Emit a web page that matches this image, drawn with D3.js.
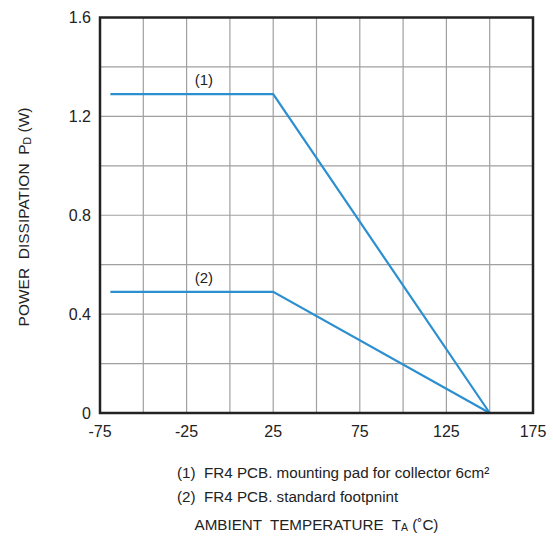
<!DOCTYPE html>
<html><head><meta charset="utf-8">
<script src="https://cdn.jsdelivr.net/npm/d3@7"></script>
<style>body{margin:0;background:#fff;} text{font-family:"Liberation Sans",Arial,sans-serif;fill:#222;white-space:pre;}</style>
</head><body>
<svg id="c" width="553" height="540"></svg>
<script>
const xTicks = [-75, -25, 25, 75, 125, 175];
const yTicks = [0, 0.4, 0.8, 1.2, 1.6];
const xGrid = [-75,-50,-25,0,25,50,75,100,125,150,175];
const yGrid = [0,0.2,0.4,0.6,0.8,1.0,1.2,1.4,1.6];
const temps = [-69, 25, 150];
const series1 = [1.29, 1.29, 0];
const series2 = [0.49, 0.49, 0];
const seriesLabels = ["(1)", "(2)"];
const labelPos = [[-15, 1.29], [-15, 0.49]];
const notes = ["(1)  FR4 PCB. mounting pad for collector 6cm²", "(2)  FR4 PCB. standard footpnint"];

const svg = d3.select("#c");
const L = 100, R = 533, T = 17.5, B = 413;
const x = d3.scaleLinear().domain([-75, 175]).range([L, R]);
const y = d3.scaleLinear().domain([0, 1.6]).range([B, T]);

// grid
svg.append("g").selectAll("line.v").data(xGrid).join("line")
  .attr("x1", d => x(d)).attr("x2", d => x(d)).attr("y1", T).attr("y2", B)
  .attr("stroke", "#a0a0a0").attr("stroke-width", 1.2);
svg.append("g").selectAll("line.h").data(yGrid).join("line")
  .attr("y1", d => y(d)).attr("y2", d => y(d)).attr("x1", L).attr("x2", R)
  .attr("stroke", "#a0a0a0").attr("stroke-width", 1.2);

// series
const line = d3.line().x(d => x(d[0])).y(d => y(d[1]));
[series1, series2].forEach(s => {
  svg.append("path").datum(temps.map((t, i) => [t, s[i]]))
    .attr("d", line).attr("fill", "none").attr("stroke", "#2b8fd0").attr("stroke-width", 2.2);
});
seriesLabels.forEach((lab, i) => {
  svg.append("text").attr("x", x(labelPos[i][0])).attr("y", y(labelPos[i][1]) - 9)
    .attr("text-anchor", "middle").attr("font-size", 15).text(lab);
});

// border
svg.append("rect").attr("x", L).attr("y", T).attr("width", R - L).attr("height", B - T)
  .attr("fill", "none").attr("stroke", "#222").attr("stroke-width", 2.5);

// tick labels
svg.append("g").selectAll("text").data(xTicks).join("text")
  .attr("x", d => x(d)).attr("y", B + 24).attr("text-anchor", "middle")
  .attr("font-size", 16).text(d => d);
svg.append("g").selectAll("text").data(yTicks).join("text")
  .attr("x", L - 9).attr("y", d => y(d) + 5.5).attr("text-anchor", "end")
  .attr("font-size", 16).text(d => d === 0 ? "0" : d.toFixed(1));

// y title
const yt = svg.append("text").attr("transform", "translate(29,217) rotate(-90)")
  .attr("text-anchor", "middle").attr("font-size", 15.5);
yt.append("tspan").text("POWER  DISSIPATION  P");
yt.append("tspan").attr("font-size", 10.5).attr("dy", 2).text("D");
yt.append("tspan").attr("dy", -2).text(" (W)");

// notes
notes.forEach((n, i) => {
  svg.append("text").attr("x", 177).attr("y", 478 + i * 24).attr("font-size", 15.2).text(n);
});

// x title
const xt = svg.append("text").attr("x", (L + R) / 2).attr("y", 530).attr("text-anchor", "middle").attr("font-size", 15.2);
xt.append("tspan").text("AMBIENT  TEMPERATURE  T");
xt.append("tspan").attr("font-size", 10.5).attr("dy", 1).text("A");
xt.append("tspan").attr("dy", -1).text(" (˚C)");
</script>
</body></html>
